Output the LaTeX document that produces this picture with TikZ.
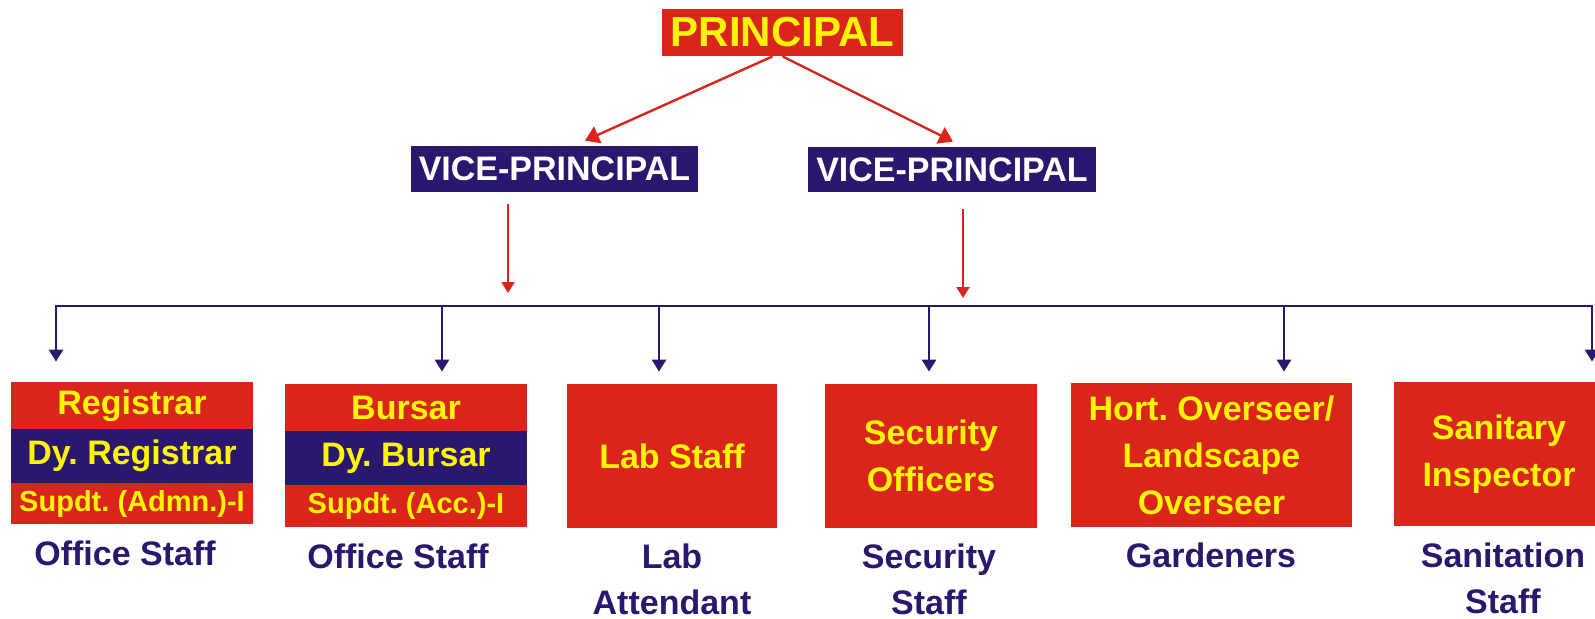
\documentclass[tikz,border=0pt]{standalone}
\usepackage{fontspec}
\setmainfont{Liberation Sans}
\usetikzlibrary{arrows.meta}
\definecolor{cred}{RGB}{218,37,29}
\definecolor{cnavy}{RGB}{42,24,110}
\definecolor{cyel}{RGB}{255,245,0}
\frenchspacing
\begin{document}
\begin{tikzpicture}[x=0.5pt,y=-0.5pt,
  redbox/.style={fill=cred, text=cyel, inner sep=0pt, align=center, anchor=center,
    font=\bfseries\fontsize{17}{23.5}\selectfont},
  navybox/.style={fill=cnavy, text=cyel, inner sep=0pt, align=center, anchor=center,
    font=\bfseries\fontsize{17}{23.5}\selectfont},
  vpbox/.style={fill=cnavy, text=white, inner sep=0pt, anchor=center,
    font=\bfseries\fontsize{17}{20}\selectfont},
  small/.style={font=\bfseries\fontsize{14.5}{17}\selectfont},
  lbl/.style={text=cnavy, inner sep=0pt, align=center, anchor=north,
    font=\bfseries\fontsize{17}{23}\selectfont},
  redarr/.style={draw=cred, line width=1.1pt, -{Triangle[length=5.5pt,width=6.5pt]}},
  redarrd/.style={draw=cred, line width=1.2pt, -{Triangle[length=7pt,width=9pt]}},
  navyarr/.style={draw=cnavy, line width=1.4pt, -{Triangle[length=6pt,width=7pt]}},
  busline/.style={draw=cnavy, line width=1.4pt, line cap=rect}
]
\useasboundingbox (0,0) rectangle (1595,618);
\clip (0,0) rectangle (1595,618);

% top
\node[redbox, minimum width=120.5pt, minimum height=23.5pt, font=\bfseries\fontsize{21}{24}\selectfont]
  (P) at (782.5,32.5) {PRINCIPAL};
\node[vpbox, minimum width=143.5pt, minimum height=23pt] (vpl) at (554.5,169) {VICE-PRINCIPAL};
\node[vpbox, minimum width=144pt, minimum height=22.5pt] (vpr) at (952,169.5) {VICE-PRINCIPAL};

% bottom boxes
\node[redbox, minimum width=121pt, minimum height=23.5pt] (reg1) at (132,405.5) {Registrar};
\node[navybox, minimum width=121pt, minimum height=27pt] (reg2) at (132,456) {Dy. Registrar};
\node[redbox, small, minimum width=121pt, minimum height=20.5pt] (reg3) at (132,503.5) {Supdt. (Admn.)-I};

\node[redbox, minimum width=121pt, minimum height=23.5pt] (bur1) at (406,407.5) {Bursar};
\node[navybox, minimum width=121pt, minimum height=27pt] (bur2) at (406,458) {Dy. Bursar};
\node[redbox, small, minimum width=121pt, minimum height=21pt] (bur3) at (406,506) {Supdt. (Acc.)-I};

\node[redbox, minimum width=105pt, minimum height=72pt] (lab) at (672,456) {Lab Staff};
\node[redbox, minimum width=106pt, minimum height=72pt] (sec) at (931,456) {Security\\Officers};
\node[redbox, minimum width=140.5pt, minimum height=72pt] (hort) at (1211.5,455) {Hort. Overseer/\\Landscape\\Overseer};
\node[redbox, minimum width=105pt, minimum height=72pt] (san) at (1499,454) {Sanitary\\Inspector};

% labels
\node[lbl] (l1) at (125,540.5) {Office Staff};
\node[lbl] (l2) at (398,543.5) {Office Staff};
\node[lbl] (l3) at (672,543) {Lab\\Attendant};
\node[lbl] (l4) at (929,543) {Security\\Staff};
\node[lbl] (l5) at (1211,542.5) {Gardeners};
\node[lbl] (l6) at (1503,542.5) {Sanitation\\Staff};

% connectors top
\draw[redarrd] ([xshift=-5pt]P.south) -- ([xshift=15.25pt,yshift=2.5pt]vpl.north);
\draw[redarrd] (P.south) -- ([xshift=0.5pt,yshift=2.5pt]vpr.north);

\coordinate (rl) at (508,293);
\coordinate (rr) at (963,298);
\draw[redarr] ([xshift=-23.25pt,yshift=-6pt]vpl.south) -- (rl);
\draw[redarr] ([xshift=5.5pt,yshift=-8.5pt]vpr.south) -- (rr);

% bus
\coordinate (d1) at (56,306);
\coordinate (d2) at (442,306);
\coordinate (d3) at (659,306);
\coordinate (d4) at (929,306);
\coordinate (d5) at (1284,306);
\coordinate (d6) at (1592,306);
\draw[busline] (d1) -- (d6);
\draw[navyarr, shorten >=10pt] (d1) -- (d1 |- reg1.north);
\draw[navyarr, shorten >=6pt] (d2) -- (d2 |- bur1.north);
\draw[navyarr, shorten >=6pt] (d3) -- (d3 |- lab.north);
\draw[navyarr, shorten >=6pt] (d4) -- (d4 |- sec.north);
\draw[navyarr, shorten >=5.5pt] (d5) -- (d5 |- hort.north);
\draw[navyarr, shorten >=10pt] (d6) -- (d6 |- san.north);
\end{tikzpicture}
\end{document}
